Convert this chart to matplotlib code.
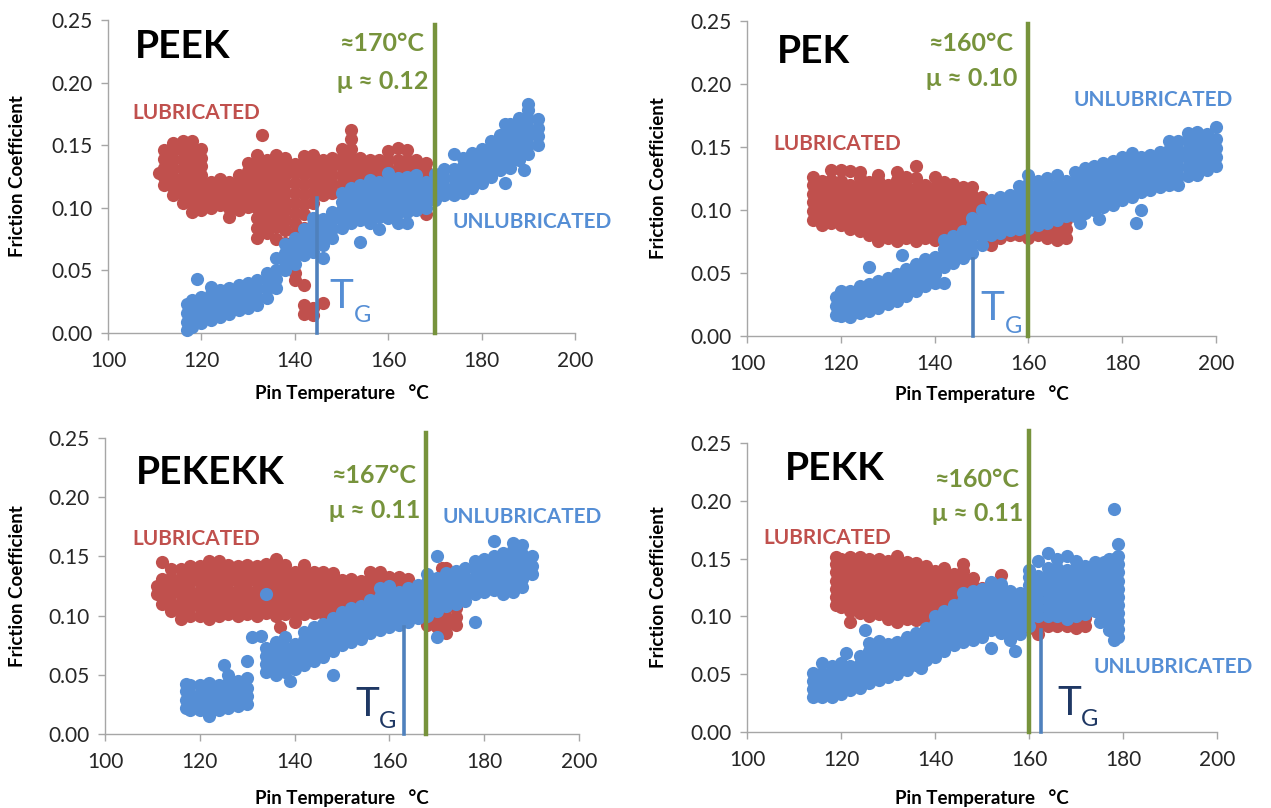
import matplotlib.pyplot as plt

plt.rcParams['font.family'] = ['Lato', 'DejaVu Sans']

RED = '#C0504D'
BLUE = '#558ED5'
GREEN = '#77933C'
TG_BLUE = '#4F81BD'
NAVY = '#1F3864'

# friction values in thousandths (per temperature column)
peek_lub_t = [111, 112, 114, 116, 118, 120, 122, 124, 126, 128, 130, 132, 133, 134, 136, 138, 140, 142, 144,
              146, 148, 150, 152, 154, 156, 158, 160, 162, 164, 166, 168]
peek_lub_mu = [[128], [118, 125, 132, 139, 146], [110, 117, 124, 131, 138, 145, 152],
               [104, 111, 118, 125, 132, 139, 146, 153], [97, 104, 111, 118, 125, 132, 139, 146, 153],
               [98, 105, 112, 119, 126, 133, 140, 147], [100, 107, 114, 121], [102, 109, 116, 123],
               [93, 100, 107, 114, 121], [98, 105, 112, 119, 126], [101, 108, 115, 122, 129, 136],
               [76, 84, 92, 100, 107, 114, 121, 128, 135, 142], [158], [80, 88, 96, 103, 110, 117, 124, 131, 138],
               [75, 85, 93, 100, 107, 114, 121, 128, 135, 142], [72, 82, 90, 98, 105, 112, 119, 126, 133, 140],
               [42, 48, 68, 80, 88, 96, 104, 112, 120, 128, 135], [15, 22, 38, 84, 95, 103, 111, 119, 127, 134, 141],
               [14, 20, 104, 112, 120, 128, 135, 142], [24, 110, 117, 124, 131, 138], [112, 119, 126, 133, 140],
               [112, 119, 126, 133, 140, 147], [112, 119, 126, 133, 140, 147, 155, 162], [112, 119, 126, 133, 140],
               [110, 117, 124, 131, 138], [110, 117, 124, 131, 138], [110, 117, 124, 131, 138, 145],
               [100, 110, 117, 124, 131, 138, 148], [110, 117, 124, 131, 138, 146], [100, 110, 117, 124, 131, 138],
               [95, 108, 115, 122, 129, 136]]
peek_unl_t = [117, 118, 119, 120, 122, 124, 126, 128, 130, 132, 134, 136, 138, 140, 142, 144, 146, 148, 150, 152,
              154, 156, 158, 160, 162, 164, 166, 168, 170, 172, 174, 176, 178, 180, 182, 184, 185, 186, 188, 189,
              190, 192]
peek_unl_mu = [[2, 9, 16, 23], [5, 12, 19, 26], [43], [8, 15, 22, 29], [10, 17, 24, 31, 37], [13, 20, 27, 34],
               [15, 22, 29, 36], [18, 25, 32, 38], [20, 27, 34, 40], [22, 29, 36, 42], [28, 35, 42, 48],
               [36, 43, 50, 60], [50, 57, 64, 71], [55, 62, 69, 76], [62, 69, 76, 83], [65, 72, 79, 86, 92],
               [60, 70, 77, 84, 91], [76, 83, 90, 97], [84, 91, 98, 105, 112], [88, 95, 102, 109, 116],
               [73, 90, 97, 104, 111, 118], [88, 95, 102, 109, 116, 122], [83, 93, 100, 107, 114, 121],
               [92, 99, 106, 113, 120, 128], [88, 96, 103, 110, 117, 124], [88, 97, 104, 111, 118, 125],
               [98, 105, 112, 119, 126], [100, 107, 114, 121], [106, 113, 120, 127], [110, 117, 124, 131],
               [110, 117, 124, 131, 143], [112, 119, 126, 133, 140], [116, 123, 130, 137, 144],
               [120, 127, 134, 141, 147], [125, 132, 139, 146, 153], [130, 137, 144, 151, 158], [120, 167],
               [132, 139, 146, 153, 160, 167], [138, 145, 152, 159, 166, 172], [130],
               [143, 150, 157, 164, 171, 178, 183], [150, 157, 164, 171]]

pek_lub_t = [114, 116, 118, 120, 122, 124, 126, 128, 130, 132, 134, 136, 138, 140, 142, 144, 146, 148, 150, 152,
             154, 156, 158, 160, 162, 164, 166, 168]
pek_lub_mu = [[92, 99, 106, 113, 120, 126], [88, 95, 102, 109, 116, 123], [90, 97, 104, 111, 118, 124, 132],
              [88, 95, 102, 109, 116, 123, 132], [85, 92, 99, 106, 113, 120, 131],
              [83, 90, 97, 104, 111, 118, 125, 130], [80, 87, 94, 101, 108, 115, 122],
              [75, 82, 89, 96, 103, 110, 117, 124, 128], [78, 85, 92, 99, 106, 113, 120],
              [75, 82, 89, 96, 103, 110, 117, 124, 130], [78, 85, 92, 99, 106, 113, 120, 126],
              [75, 82, 89, 96, 103, 110, 117, 125, 135], [78, 85, 92, 99, 106, 113, 120],
              [76, 83, 90, 97, 104, 111, 118, 126], [80, 87, 94, 101, 108, 115, 122],
              [80, 87, 94, 101, 108, 115, 121], [84, 91, 98, 105, 112, 118], [84, 91, 98, 105, 112, 118],
              [82, 89, 96, 103, 110], [72, 82, 89, 96, 103], [78, 85, 92, 99, 105], [80, 87, 94, 101],
              [80, 87, 94, 100], [78, 85, 92, 98], [80, 87, 94], [78, 85, 92, 99], [76, 83, 90, 97],
              [78, 85, 92, 99]]
pek_unl_t = [119, 120, 122, 124, 126, 128, 130, 132, 133, 134, 136, 138, 140, 142, 144, 146, 148, 150, 152, 154,
             156, 158, 160, 162, 164, 166, 168, 170, 171, 172, 174, 175, 176, 178, 180, 182, 183, 184, 186, 188,
             190, 192, 194, 196, 198, 200]
pek_unl_mu = [[17, 24, 31], [16, 23, 30, 36], [15, 22, 29, 36], [18, 25, 32, 40], [20, 27, 34, 41, 55],
              [22, 29, 36, 44], [25, 32, 39, 46], [28, 35, 42, 49], [64], [32, 39, 46, 53], [36, 43, 50, 57],
              [40, 47, 54, 61], [42, 49, 56, 63], [42, 55, 62, 69, 76], [58, 65, 72, 79], [62, 69, 76, 83],
              [66, 73, 80, 87, 94], [72, 79, 86, 93, 100], [80, 87, 94, 101, 108], [82, 89, 96, 103, 110],
              [84, 91, 98, 105, 112], [85, 92, 99, 106, 113, 119], [86, 93, 100, 107, 114, 121, 128],
              [88, 95, 102, 109, 116, 123], [90, 97, 104, 111, 118, 125], [92, 99, 106, 113, 120, 128],
              [95, 102, 109, 116, 123], [95, 102, 109, 116, 123, 130], [90], [98, 105, 112, 119, 126, 133],
              [100, 107, 114, 121, 128, 135], [93], [102, 109, 116, 123, 130, 137], [104, 111, 118, 125, 132, 139],
              [108, 115, 122, 129, 136, 142], [110, 117, 124, 131, 138, 145], [90], [100, 114, 121, 128, 135, 142],
              [116, 123, 130, 137, 144], [118, 125, 132, 139, 146], [120, 127, 134, 141, 148, 155],
              [120, 127, 134, 141, 148, 155], [127, 134, 141, 148, 155, 161], [128, 135, 142, 149, 156, 162],
              [132, 139, 146, 153, 160], [135, 142, 149, 156, 166]]

pekekk_lub_t = [111, 112, 114, 116, 118, 120, 122, 124, 126, 128, 130, 132, 134, 136, 137, 138, 140, 142, 144,
                146, 148, 150, 152, 154, 156, 158, 160, 162, 164, 166, 168, 170, 171, 172, 174]
pekekk_lub_mu = [[118, 125], [110, 117, 124, 131, 145], [104, 111, 118, 125, 132, 139],
                 [97, 104, 111, 118, 125, 132, 139], [100, 107, 114, 121, 128, 135, 142],
                 [100, 107, 114, 121, 128, 135, 142], [97, 104, 111, 118, 125, 132, 139, 146],
                 [100, 107, 114, 121, 128, 135, 142, 146], [101, 108, 115, 122, 129, 136, 143],
                 [100, 107, 114, 121, 128, 135, 142], [101, 108, 115, 122, 129, 136, 143],
                 [100, 107, 114, 121, 128, 135, 142], [102, 109, 116, 123, 130, 137, 144],
                 [100, 107, 114, 121, 128, 135, 142, 148], [90], [101, 108, 115, 122, 129, 136, 143],
                 [95, 102, 109, 116, 123, 130, 137], [101, 108, 115, 122, 129, 136, 143],
                 [102, 109, 116, 123, 130, 137], [102, 109, 116, 123, 130, 137], [101, 108, 115, 122, 129, 136],
                 [102, 109, 116, 123, 130], [103, 110, 117, 124, 131], [108, 115, 122, 129],
                 [110, 117, 124, 131, 137], [110, 117, 124, 131, 137], [112, 119, 126, 133], [112, 119, 126, 133],
                 [110, 117, 124, 131], [110, 117, 124], [92, 99, 106], [90, 97, 104, 111], [140],
                 [85, 92, 99, 106, 140], [92, 99, 106, 112]]
pekekk_unl_t = [117, 118, 120, 122, 124, 125, 126, 128, 130, 131, 133, 134, 136, 138, 139, 140, 142, 144, 146, 148,
                150, 152, 154, 156, 158, 160, 162, 164, 166, 168, 170, 172, 174, 176, 178, 180, 182, 184, 186, 188,
                190]
pekekk_unl_mu = [[22, 29, 36, 42], [20, 27, 34, 41], [20, 27, 34, 41], [15, 22, 29, 36, 43], [20, 27, 34, 41],
                 [58], [22, 29, 36, 43, 50], [24, 31, 38, 45], [25, 32, 39, 47, 62], [82], [83],
                 [52, 59, 66, 73, 118], [50, 57, 64, 71, 78], [52, 59, 66, 73, 82], [45], [55, 62, 69, 76],
                 [58, 65, 72, 79, 86], [62, 69, 76, 83, 90], [65, 72, 79, 86, 93], [50, 70, 77, 84, 91, 98],
                 [75, 82, 89, 96, 103], [78, 85, 92, 99, 106], [80, 87, 94, 101, 108], [85, 92, 99, 106, 113],
                 [88, 95, 102, 109, 116, 123], [90, 97, 104, 111, 118, 125], [92, 99, 106, 113, 120],
                 [95, 102, 109, 116, 123], [98, 105, 112, 119, 126], [100, 107, 114, 121, 128, 135],
                 [82, 104, 111, 118, 125, 132, 150], [108, 115, 122, 129, 136], [110, 117, 124, 131, 138],
                 [112, 119, 126, 133, 140], [95, 118, 125, 132, 139, 146], [120, 127, 134, 141, 148],
                 [122, 129, 136, 143, 150, 163], [118, 125, 132, 139, 146, 153],
                 [120, 127, 134, 141, 148, 155, 161], [124, 131, 138, 145, 152, 160], [135, 142, 150]]

pekk_lub_t = [119, 120, 122, 124, 126, 128, 130, 132, 134, 136, 138, 140, 142, 144, 146, 148, 150, 152, 154, 156,
              158, 160, 162, 164, 166, 168, 170, 172]
pekk_lub_mu = [[110, 117, 124, 131, 138, 145, 151], [108, 115, 122, 129, 136, 143, 150],
               [95, 105, 112, 119, 126, 133, 140, 147, 151], [103, 110, 117, 124, 131, 138, 145, 151],
               [100, 107, 114, 121, 128, 135, 142, 150], [102, 109, 116, 123, 130, 137, 144, 150],
               [98, 105, 112, 119, 126, 133, 140, 148], [95, 102, 109, 116, 123, 130, 137, 144, 152],
               [98, 105, 112, 119, 126, 133, 140, 147], [97, 104, 111, 118, 125, 132, 139, 146],
               [95, 102, 109, 116, 123, 130, 137, 144], [97, 104, 111, 118, 125, 132, 139],
               [100, 107, 114, 121, 128, 135, 142], [102, 109, 116, 123, 130, 137],
               [104, 111, 118, 125, 132, 139, 145], [105, 112, 119, 126, 133], [104, 111, 118, 125],
               [100, 107, 114, 120], [98, 105, 136], [93, 100, 107], [90, 97, 104], [90, 97, 104, 115],
               [85, 92, 99, 106, 118], [92, 99, 106, 112], [92, 99, 106], [92, 99, 106], [90, 97, 104], [92, 99]]
pekk_unl_t = [114, 116, 118, 120, 121, 122, 124, 125, 126, 128, 130, 132, 134, 136, 137, 138, 140, 142, 144, 146,
              148, 150, 152, 154, 156, 157, 158, 160, 162, 164, 166, 168, 170, 172, 174, 175, 176, 177, 178, 179]
pekk_unl_mu = [[30, 37, 44, 51], [30, 37, 44, 51, 60], [30, 37, 44, 51, 57], [33, 40, 47, 54, 60], [68],
               [36, 43, 50, 57], [38, 45, 52, 59, 66], [88], [42, 49, 56, 63, 70, 77], [45, 52, 59, 66, 73, 79],
               [48, 55, 62, 69, 76], [50, 57, 64, 71, 78], [54, 61, 68, 75, 82], [58, 65, 72, 79, 86], [55],
               [62, 69, 76, 83, 90], [65, 72, 79, 86, 93, 100], [70, 77, 84, 91, 98, 105],
               [75, 82, 89, 96, 103, 110], [78, 85, 92, 99, 106, 113, 120], [80, 87, 94, 101, 108, 115, 122],
               [82, 89, 96, 103, 110, 117, 124], [73, 88, 95, 102, 109, 116, 123, 130],
               [86, 93, 100, 107, 114, 121, 128], [80, 87, 94, 101, 108, 115, 122], [70],
               [85, 92, 99, 106, 113, 120], [92, 99, 106, 113, 120, 127, 134, 140],
               [100, 107, 114, 121, 128, 135, 148], [100, 107, 114, 121, 128, 135, 142, 155],
               [100, 107, 114, 121, 128, 135, 142, 150], [98, 105, 112, 119, 126, 133, 140, 152],
               [100, 107, 114, 121, 128, 135, 142, 148], [102, 109, 116, 123, 130, 137, 144],
               [105, 112, 119, 126, 133, 140, 147], [95], [98, 105, 112, 119, 126, 133, 140, 147],
               [88, 95, 102, 109, 116, 123, 130, 137, 144, 150],
               [80, 87, 94, 101, 108, 115, 122, 129, 136, 143, 150, 193],
               [82, 89, 96, 103, 110, 117, 124, 131, 138, 145, 152, 163]]

names = ['PEEK', 'PEK', 'PEKEKK', 'PEKK']
transition_t = [170, 160, 167.7, 160]
transition_mu = ['0.12', '0.10', '0.11', '0.11']
transition_label_t = ['170', '160', '167', '160']
tg_t = [144.7, 148.2, 163.1, 162.5]

W, H = 1271, 808
fig = plt.figure(figsize=(W / 100, H / 100), dpi=100)

# pixel boxes (left, top, right, bottom) of the four plot areas
boxes = [(108, 20, 575, 333), (747, 21, 1216, 336), (105, 438, 579, 734), (747, 443, 1217, 732)]
ylabel_x = [18, 658, 18, 658]
xlabel_y = [393, 394, 798, 798]
series = [(peek_lub_t, peek_lub_mu, peek_unl_t, peek_unl_mu),
          (pek_lub_t, pek_lub_mu, pek_unl_t, pek_unl_mu),
          (pekekk_lub_t, pekekk_lub_mu, pekekk_unl_t, pekekk_unl_mu),
          (pekk_lub_t, pekk_lub_mu, pekk_unl_t, pekk_unl_mu)]

# label placement per panel (data coords)
name_pos = [(105.7, 0.229), (106.4, 0.226), (106.6, 0.221), (108.1, 0.228)]
green_x = [167.6, 156.8, 165.6, 157.8]
green_y = [(0.231, 0.201), (0.232, 0.204), (0.218, 0.189), (0.218, 0.189)]
green_top = [0.246, 0.248, 0.254, 0.26]
lub_pos = [(105.2, 0.176), (105.6, 0.152), (105.8, 0.165), (103.4, 0.168)]
unl_pos = [(173.7, 0.089), (169.7, 0.187), (171.3, 0.183), (173.8, 0.056)]
tg_top = [0.108, 0.061, 0.090, 0.088]
t_pos = [(147.3, 0.020), (149.7, 0.013), (152.8, 0.015), (166.0, 0.015)]
g_pos = [(152.7, 0.009), (155.0, 0.002), (157.7, 0.005), (171.0, 0.005)]
tg_colors = [BLUE, BLUE, NAVY, NAVY]


def flatten(temps, mus):
    xs, ys = [], []
    for t, col in zip(temps, mus):
        for m in col:
            xs.append(t)
            ys.append(m / 1000)
    return xs, ys


for i, (l, t, r, b) in enumerate(boxes):
    ax = fig.add_axes([l / W, 1 - b / H, (r - l) / W, (b - t) / H])
    lub_t, lub_mu, unl_t, unl_mu = series[i]
    xs, ys = flatten(lub_t, lub_mu)
    ax.scatter(xs, ys, s=90, color=RED, linewidths=0, zorder=2, clip_on=False)
    xs, ys = flatten(unl_t, unl_mu)
    ax.scatter(xs, ys, s=90, color=BLUE, linewidths=0, zorder=3, clip_on=False)

    ax.plot([tg_t[i], tg_t[i]], [0, tg_top[i]], color=TG_BLUE, lw=2.6, zorder=4, clip_on=False)
    ax.plot([transition_t[i], transition_t[i]], [0, green_top[i]], color=GREEN, lw=3.2, zorder=5, clip_on=False)

    ax.set_xlim(100, 200)
    ax.set_ylim(0, 0.25)
    ax.set_xticks([100, 120, 140, 160, 180, 200])
    ax.set_yticks([0, 0.05, 0.10, 0.15, 0.20, 0.25])
    ax.set_yticklabels(['0.00', '0.05', '0.10', '0.15', '0.20', '0.25'])
    for side in ['top', 'right']:
        ax.spines[side].set_visible(False)
    for side in ['left', 'bottom']:
        ax.spines[side].set_color('#A6A6A6')
        ax.spines[side].set_linewidth(1.0)
    ax.tick_params(axis='both', direction='out', length=5, width=1.0, color='#A6A6A6',
                   labelsize=15, labelcolor='#262626', pad=6)
    ax.tick_params(axis='x', pad=8)

    ax.set_xlabel('Pin Temperature   °C', fontsize=13.5, fontweight='bold')
    ax.set_ylabel('Friction Coefficient', fontsize=13.5, fontweight='bold')
    ax.yaxis.set_label_coords((ylabel_x[i] - l) / (r - l), 0.5)
    ax.xaxis.set_label_coords(0.5, -(xlabel_y[i] - b) / (b - t))
    ax.xaxis.label.set_va('center')
    ax.yaxis.label.set_va('center')

    ax.text(name_pos[i][0], name_pos[i][1], names[i], fontsize=28, fontweight='bold', color='black',
            ha='left', va='center')
    ax.text(green_x[i], green_y[i][0], '≈' + transition_label_t[i] + '°C', fontsize=18, fontweight='bold',
            color=GREEN, ha='right', va='center')
    ax.text(green_x[i] + 0.9, green_y[i][1], 'μ ≈ ' + transition_mu[i], fontsize=18, fontweight='bold',
            color=GREEN, ha='right', va='center')
    ax.text(lub_pos[i][0], lub_pos[i][1], 'LUBRICATED', fontsize=15, fontweight='bold', color=RED,
            ha='left', va='center')
    ax.text(unl_pos[i][0], unl_pos[i][1], 'UNLUBRICATED', fontsize=15, fontweight='bold', color=BLUE,
            ha='left', va='center', clip_on=False)
    ax.text(t_pos[i][0], t_pos[i][1], 'T', fontsize=29, color=tg_colors[i], ha='left', va='baseline')
    ax.text(g_pos[i][0], g_pos[i][1], 'G', fontsize=17, color=tg_colors[i], ha='left', va='baseline')

fig.savefig('out.png', dpi=100)
